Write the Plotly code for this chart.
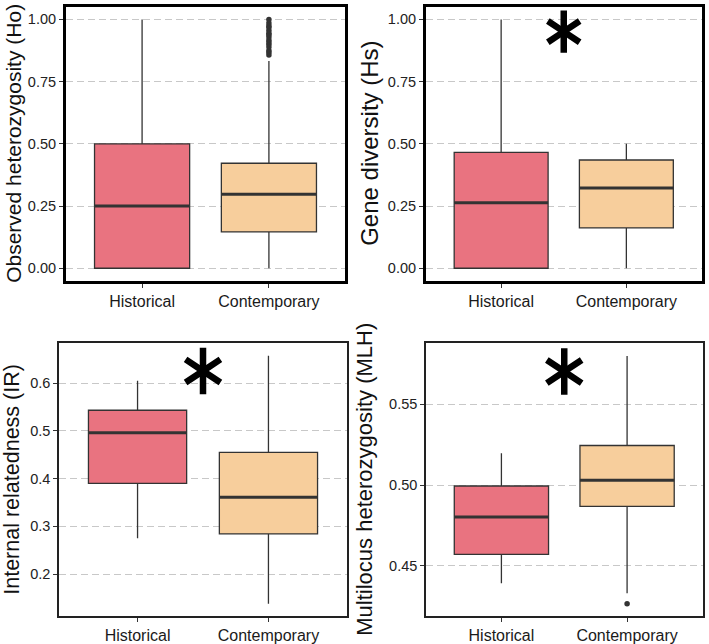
import plotly.graph_objects as go

# ---------------- data ----------------
categories = ["Historical", "Contemporary"]

# Panel 1: Observed heterozygosity (Ho)
ho_lower = [0.0, 0.0]
ho_q1 = [0.0, 0.146]
ho_median = [0.25, 0.297]
ho_q3 = [0.50, 0.422]
ho_upper = [1.0, 0.833]
ho_out_hist = []
ho_out_cont = [0.857, 0.867, 0.875, 0.889, 0.9, 0.909, 0.917, 0.929, 0.938,
               0.944, 0.955, 0.967, 0.975, 0.986, 1.0]

# Panel 2: Gene diversity (Hs)
hs_lower = [0.0, 0.0]
hs_q1 = [0.0, 0.162]
hs_median = [0.263, 0.322]
hs_q3 = [0.466, 0.435]
hs_upper = [1.0, 0.5]
hs_out_hist = []
hs_out_cont = []

# Panel 3: Internal relatedness (IR)
ir_lower = [0.275, 0.138]
ir_q1 = [0.390, 0.284]
ir_median = [0.496, 0.361]
ir_q3 = [0.543, 0.455]
ir_upper = [0.605, 0.657]
ir_out_hist = []
ir_out_cont = []

# Panel 4: Multilocus heterozygosity (MLH)
mlh_lower = [0.4393, 0.4331]
mlh_q1 = [0.4571, 0.4868]
mlh_median = [0.4803, 0.5029]
mlh_q3 = [0.4994, 0.5244]
mlh_upper = [0.5197, 0.5797]
mlh_out_hist = []
mlh_out_cont = [0.4266]

titles = ["Observed heterozygosity (Ho)", "Gene diversity (Hs)",
          "Internal relatedness (IR)", "Multilocus heterozygosity (MLH)"]

y_ticks_1 = [0.0, 0.25, 0.5, 0.75, 1.0]
y_ticklabels_1 = ["0.00", "0.25", "0.50", "0.75", "1.00"]
y_ticks_3 = [0.2, 0.3, 0.4, 0.5, 0.6]
y_ticklabels_3 = ["0.2", "0.3", "0.4", "0.5", "0.6"]
y_ticks_4 = [0.45, 0.50, 0.55]
y_ticklabels_4 = ["0.45", "0.50", "0.55"]

# significance markers (panel number -> y of asterisk centre)
signif_panels = [2, 3, 4]
signif_y = [0.951, 0.6253, 0.5701]

# ---------------- style ----------------
FILLS = ["#E97380", "#F7CE9C"]
EDGE = "#333333"
FONT = "Liberation Sans, Arial, sans-serif"
BOX_W = 0.75

panels = [
    dict(lower=ho_lower, q1=ho_q1, med=ho_median, q3=ho_q3, upper=ho_upper,
         outs=[ho_out_hist, ho_out_cont], yrange=[-0.05, 1.05],
         tv=y_ticks_1, tt=y_ticklabels_1,
         dom_x=[66 / 709, 345 / 709], dom_y=[1 - 282 / 644, 1 - 7 / 644],
         frame_w=3, frame_c="#000000", title_x=14, title_size=21, star=26.5),
    dict(lower=hs_lower, q1=hs_q1, med=hs_median, q3=hs_q3, upper=hs_upper,
         outs=[hs_out_hist, hs_out_cont], yrange=[-0.05, 1.05],
         tv=y_ticks_1, tt=y_ticklabels_1,
         dom_x=[426 / 709, 701.5 / 709], dom_y=[1 - 282 / 644, 1 - 7 / 644],
         frame_w=3, frame_c="#000000", title_x=370, title_size=24, star=26.5),
    dict(lower=ir_lower, q1=ir_q1, med=ir_median, q3=ir_q3, upper=ir_upper,
         outs=[ir_out_hist, ir_out_cont], yrange=[0.112, 0.683],
         tv=y_ticks_3, tt=y_ticklabels_3,
         dom_x=[59 / 709, 347 / 709], dom_y=[1 - 619 / 644, 1 - 345 / 644],
         frame_w=1.6, frame_c="#222222", title_x=12, title_size=21.5, star=29),
    dict(lower=mlh_lower, q1=mlh_q1, med=mlh_median, q3=mlh_q3, upper=mlh_upper,
         outs=[mlh_out_hist, mlh_out_cont], yrange=[0.419, 0.5875],
         tv=y_ticks_4, tt=y_ticklabels_4,
         dom_x=[426 / 709, 702.5 / 709], dom_y=[1 - 619 / 644, 1 - 345 / 644],
         frame_w=1.6, frame_c="#222222", title_x=365, title_size=22, star=29),
]

fig = go.Figure()
annotations = []

for p_i, p in enumerate(panels):
    n = p_i + 1
    sfx = "" if n == 1 else str(n)
    xa, ya = "x" + sfx, "y" + sfx
    for c_i, cat in enumerate(categories):
        pos = c_i + 1
        fig.add_trace(go.Box(
            x=[pos], q1=[p["q1"][c_i]], median=[p["med"][c_i]], q3=[p["q3"][c_i]],
            lowerfence=[p["lower"][c_i]], upperfence=[p["upper"][c_i]],
            width=BOX_W, whiskerwidth=0, boxpoints=False,
            fillcolor=FILLS[c_i], line=dict(color=EDGE, width=1.3),
            xaxis=xa, yaxis=ya, showlegend=False, hoverinfo="skip"))
        # thick median line
        fig.add_trace(go.Scatter(
            x=[pos - BOX_W / 2, pos + BOX_W / 2],
            y=[p["med"][c_i], p["med"][c_i]],
            mode="lines", line=dict(color=EDGE, width=3),
            xaxis=xa, yaxis=ya, showlegend=False, hoverinfo="skip"))
        outs = p["outs"][c_i]
        if outs:
            fig.add_trace(go.Scatter(
                x=[pos] * len(outs), y=outs, mode="markers",
                marker=dict(color=EDGE, size=5.5),
                xaxis=xa, yaxis=ya, showlegend=False, hoverinfo="skip"))

    axis_common = dict(showline=True, mirror=True, linewidth=p["frame_w"],
                       linecolor=p["frame_c"], ticks="outside", ticklen=4,
                       tickwidth=1, tickcolor=EDGE, zeroline=False)
    fig.layout["xaxis" + sfx] = dict(
        domain=p["dom_x"], anchor=ya, range=[0.4, 2.6], tickvals=[1, 2],
        ticktext=categories, showgrid=False,
        tickfont=dict(family=FONT, size=16, color="#1a1a1a"), **axis_common)
    fig.layout["yaxis" + sfx] = dict(
        domain=p["dom_y"], anchor=xa, range=p["yrange"], tickvals=p["tv"],
        ticktext=p["tt"], showgrid=True, gridcolor="#c8c8c8", gridwidth=1.2,
        griddash="7px,4px",
        tickfont=dict(family=FONT, size=14.5, color="#222222"), **axis_common)

    annotations.append(dict(
        text=titles[p_i], xref="paper", yref="paper",
        x=p["title_x"] / 709, y=(p["dom_y"][0] + p["dom_y"][1]) / 2,
        xanchor="center", yanchor="middle", textangle=-90, showarrow=False,
        font=dict(family=FONT, size=p["title_size"], color="#111111")))

# significance asterisks: a six-armed star built from two "Y" symbols
for panel_no, yv in zip(signif_panels, signif_y):
    sfx = "" if panel_no == 1 else str(panel_no)
    size = panels[panel_no - 1]["star"]
    for sym in ["y-up-open", "y-down-open"]:
        fig.add_trace(go.Scatter(
            x=[1.5], y=[yv], mode="markers",
            marker=dict(symbol=sym, size=size, color="#000000",
                        line=dict(color="#000000", width=6.5)),
            xaxis="x" + sfx, yaxis="y" + sfx, showlegend=False,
            hoverinfo="skip", cliponaxis=False))

fig.update_layout(
    width=709, height=644, margin=dict(l=0, r=0, t=0, b=0),
    paper_bgcolor="white", plot_bgcolor="white",
    annotations=annotations, showlegend=False)

fig.write_html("out.html",
               config={"displayModeBar": False},
               post_script="document.body.style.margin='0';"
                           "document.body.style.overflow='hidden';")
